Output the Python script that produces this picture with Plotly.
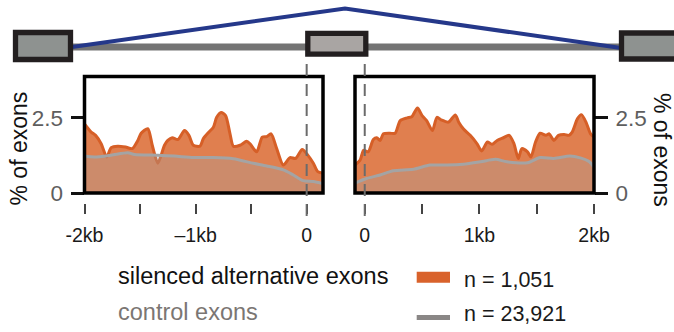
import plotly.graph_objects as go

# ---- upstream flank (kb before the alternative exon) ----
up_kb = [-2.0, -1.94, -1.90, -1.85, -1.80, -1.76, -1.70, -1.63, -1.57, -1.52, -1.49, -1.43,
         -1.39, -1.34, -1.28, -1.25, -1.21, -1.16, -1.10, -1.06, -1.02, -0.96, -0.93, -0.88,
         -0.84, -0.81, -0.77, -0.73, -0.69, -0.66, -0.60, -0.54, -0.51, -0.45, -0.40, -0.36,
         -0.32, -0.27, -0.21, -0.15, -0.10, -0.04, 0.01, 0.06, 0.10, 0.147]
up_silenced = [2.30, 2.03, 1.92, 1.64, 1.20, 1.51, 1.56, 1.53, 1.48, 1.75, 1.99, 2.14,
               1.59, 0.99, 1.59, 1.75, 1.84, 1.78, 2.08, 1.92, 1.59, 1.56, 1.81, 2.03,
               2.19, 2.52, 2.68, 2.58, 1.97, 1.56, 1.59, 1.72, 1.64, 1.37, 1.86, 1.88,
               1.97, 1.48, 0.93, 1.18, 1.15, 1.45, 1.26, 0.99, 0.71, 0.66]
up_ctrl_kb = [-2.0, -1.91, -1.76, -1.61, -1.55, -1.34, -1.19, -1.02, -0.84, -0.66, -0.48,
              -0.36, -0.21, -0.12, -0.03, 0.06, 0.147]
up_control = [1.23, 1.20, 1.26, 1.34, 1.28, 1.26, 1.23, 1.18, 1.18, 1.14, 0.99,
              0.90, 0.77, 0.60, 0.41, 0.38, 0.31]

# ---- downstream flank (kb after the alternative exon) ----
down_kb = [-0.085, -0.04, -0.01, 0.03, 0.075, 0.105, 0.134, 0.163, 0.22, 0.265, 0.31, 0.37,
           0.41, 0.46, 0.50, 0.54, 0.59, 0.63, 0.67, 0.73, 0.79, 0.82, 0.86, 0.92, 0.98,
           1.02, 1.07, 1.11, 1.155, 1.21, 1.26, 1.30, 1.34, 1.37, 1.42, 1.45, 1.49, 1.53,
           1.58, 1.61, 1.65, 1.69, 1.74, 1.78, 1.81, 1.855, 1.89, 1.93, 1.97, 2.0]
down_silenced = [0.93, 1.10, 1.42, 1.37, 1.78, 1.84, 1.75, 1.97, 1.99, 1.99, 2.41, 2.50,
                 2.54, 2.83, 2.58, 2.41, 2.08, 2.52, 2.43, 2.36, 2.60, 2.36, 2.14, 1.92, 1.64,
                 1.40, 1.70, 1.62, 1.75, 1.84, 1.92, 1.66, 1.15, 1.48, 1.37, 1.20, 1.70, 1.99,
                 1.92, 1.97, 1.75, 1.92, 1.95, 1.92, 2.03, 2.47, 2.61, 2.36, 1.97, 1.86]
down_ctrl_kb = [-0.085, 0.02, 0.134, 0.25, 0.425, 0.57, 0.72, 0.86, 1.01, 1.14, 1.24, 1.42,
                1.53, 1.65, 1.79, 1.88, 1.96, 2.0]
down_control = [0.33, 0.49, 0.60, 0.74, 0.79, 0.93, 0.93, 0.96, 1.04, 1.12, 1.04, 1.01,
                1.18, 1.15, 1.23, 1.17, 1.04, 0.86]

up_ticks = [-2, -1.5, -1, -0.5, 0]
up_ticktext = ["-2kb", "", "\u20131kb", "", "0"]
down_ticks = [0, 0.5, 1, 1.5, 2]
down_ticktext = ["0", "", "1kb", "", "2kb"]
y_ticks = [0, 2.5]
y_ticktext = ["0", "2.5"]

series_names = ["silenced alternative exons", "control exons"]
series_counts = ["n = 1,051", "n = 23,921"]

W, H = 674, 332
FONT = "Liberation Sans, Arial, Helvetica, sans-serif"
ORANGE_FILL = "#e07f4f"
ORANGE_LINE = "#d65f27"
CTRL_FILL = "rgba(165,165,165,0.33)"
CTRL_LINE = "#a4a4a4"


def px(x):
    return x / W


def py(y):
    return 1 - y / H


fig = go.Figure()

panels = [
    ("x", "y", up_kb, up_silenced, up_ctrl_kb, up_control),
    ("x2", "y2", down_kb, down_silenced, down_ctrl_kb, down_control),
]
for xa, ya, kb, sil, ckb, ctl in panels:
    fig.add_trace(go.Scatter(
        x=kb, y=sil, xaxis=xa, yaxis=ya, mode="lines",
        line=dict(color=ORANGE_LINE, width=3, shape="spline", smoothing=0.7),
        fill="tozeroy", fillcolor=ORANGE_FILL, hoverinfo="skip", showlegend=False))
    fig.add_trace(go.Scatter(
        x=ckb, y=ctl, xaxis=xa, yaxis=ya, mode="lines",
        line=dict(color=CTRL_LINE, width=3, shape="spline", smoothing=0.7),
        fill="tozeroy", fillcolor=CTRL_FILL, hoverinfo="skip", showlegend=False))

y_dom = [py(193), py(76.5)]
x_common = dict(anchor="free", position=py(203.3), showline=False, showgrid=False,
                zeroline=False, automargin=False, ticks="outside", ticklen=10, tickwidth=2,
                tickcolor="#444444", ticklabelstandoff=4,
                tickfont=dict(family=FONT, size=19.5, color="#1a1a1a"))
y_common = dict(range=[0, 3.88], domain=y_dom, showline=False, showgrid=False,
                zeroline=False, automargin=False, ticks="outside", ticklen=13, tickwidth=3,
                tickcolor="#111111", tickvals=y_ticks, ticktext=y_ticktext,
                ticklabelstandoff=3,
                tickfont=dict(family=FONT, size=22.5, color="#5e5e5e"))

fig.update_layout(
    template="none",
    width=W, height=H, margin=dict(l=0, r=0, t=0, b=0, autoexpand=False),
    paper_bgcolor="white", plot_bgcolor="white",
    xaxis=dict(domain=[px(84.5), px(323)], range=[-2, 0.147],
               tickvals=up_ticks, ticktext=up_ticktext, **x_common),
    xaxis2=dict(domain=[px(355), px(594)], range=[-0.085, 2.0],
                tickvals=down_ticks, ticktext=down_ticktext, **x_common),
    yaxis=dict(anchor="x", side="left", **y_common),
    yaxis2=dict(anchor="x2", side="right", **y_common),
)

shapes = []
# panel frames
for xr, yr in [("x domain", "y domain"), ("x2 domain", "y2 domain")]:
    shapes.append(dict(type="rect", xref=xr, yref=yr, x0=0, x1=1, y0=0, y1=1,
                       line=dict(color="black", width=3.5), layer="above"))
# exon boundaries
for xr in ["x", "x2"]:
    shapes.append(dict(type="line", xref=xr, yref="paper", x0=0, x1=0,
                       y0=py(64), y1=py(218),
                       line=dict(color="#6b6b6b", width=2, dash="12px,8px"),
                       layer="above"))

# gene model: intron, splice junction, exons
shapes.append(dict(type="line", xref="paper", yref="paper", x0=px(70), x1=px(625),
                   y0=py(47), y1=py(47), line=dict(color="#747474", width=7)))
shapes.append(dict(type="path", xref="paper", yref="paper",
                   path=f"M {px(72)},{py(47)} L {px(345)},{py(8.5)} L {px(621)},{py(48)}",
                   line=dict(color="#25388a", width=4)))
for x0, x1, y0, y1, fc in [(15.5, 70.5, 32.5, 59.5, "#8e9290"),
                           (307.8, 365.8, 33.3, 54.2, "#a9a5a3"),
                           (621.5, 690, 33, 59, "#8e9290")]:
    shapes.append(dict(type="rect", xref="paper", yref="paper",
                       x0=px(x0), x1=px(x1), y0=py(y1), y1=py(y0),
                       fillcolor=fc, line=dict(color="#231f20", width=5.3)))

# legend swatches
shapes.append(dict(type="rect", xref="paper", yref="paper", x0=px(416.7), x1=px(450),
                   y0=py(282.7), y1=py(271.7), fillcolor="#d9622b", line=dict(width=0)))
shapes.append(dict(type="line", xref="paper", yref="paper", x0=px(416.7), x1=px(450),
                   y0=py(317.5), y1=py(317.5), line=dict(color="#8a8786", width=5)))

annotations = [
    dict(text="% of exons", x=px(18), y=py(148.5), textangle=-90),
    dict(text="% of exons", x=px(662.5), y=py(149.5), textangle=90),
]
for a in annotations:
    a.update(xref="paper", yref="paper", showarrow=False, xanchor="center",
             yanchor="middle", font=dict(family=FONT, size=23, color="#111111"))

legend_rows = [
    (series_names[0], series_counts[0], "#111111", 275.7, 279.5),
    (series_names[1], series_counts[1], "#7b7673", 312.0, 313.8),
]
for name, count, color, yn, yc in legend_rows:
    annotations.append(dict(text=name, x=px(116), y=py(yn), xref="paper", yref="paper",
                            showarrow=False, xanchor="left", yanchor="middle",
                            font=dict(family=FONT, size=23.5, color=color)))
    annotations.append(dict(text=count, x=px(461.5), y=py(yc), xref="paper", yref="paper",
                            showarrow=False, xanchor="left", yanchor="middle",
                            font=dict(family=FONT, size=21.5, color="#1a1a1a")))

fig.update_layout(shapes=shapes, annotations=annotations)
fig.write_html("out.html")
